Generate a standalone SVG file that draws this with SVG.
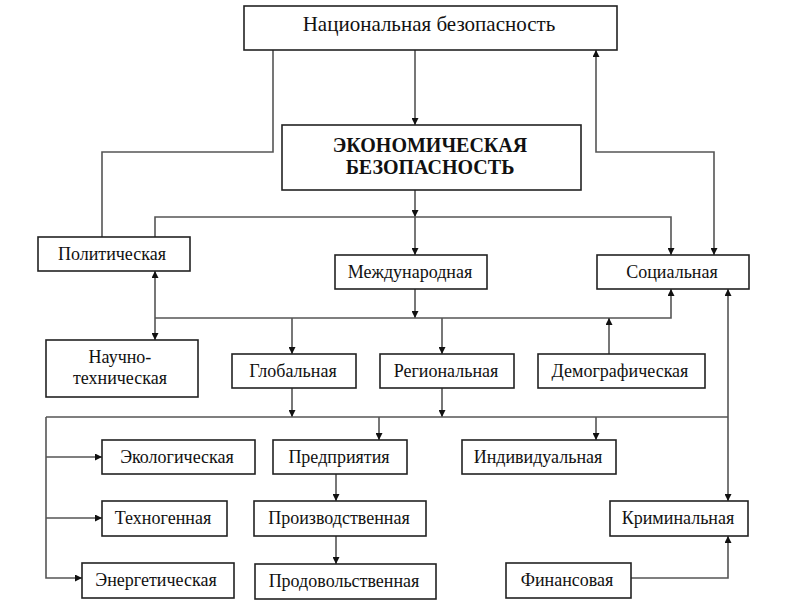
<svg xmlns="http://www.w3.org/2000/svg" width="788" height="606" viewBox="0 0 788 606">
<defs>
<marker id="a" viewBox="0 0 10 10" refX="10" refY="5" markerWidth="9" markerHeight="7" markerUnits="userSpaceOnUse" orient="auto-start-reverse"><path d="M0,0 L10,5 L0,10 z" fill="#111"/></marker>
<style>
.box{fill:#fff;stroke:#222;stroke-width:1.6}
.t{font-family:"Liberation Serif","Times New Roman",serif;font-size:18px;fill:#111;text-anchor:middle;dominant-baseline:central}
.n{font-size:21px}
.b{font-weight:bold;font-size:20px}
.c{fill:none;stroke:#555;stroke-width:1.6}
.e{marker-end:url(#a)}
.s{marker-start:url(#a)}
</style>
</defs>
<rect width="788" height="606" fill="#fff"/>
<g id="connectors">
<path class="c e" d="M415,50 V125"/>
<path class="c" d="M273,50 V152 H102 V237"/>
<path class="c e s" d="M596,50 V152 H714 V255"/>
<path class="c e" d="M415,190 V217"/>
<path class="c e" d="M415,217 V255"/>
<path class="c e" d="M155,237 V217 H671 V255"/>
<path class="c e s" d="M155,271 V340"/>
<path class="c e" d="M415,289 V318"/>
<path class="c e" d="M155,318 H671 V289"/>
<path class="c e" d="M292,318 V354"/>
<path class="c e" d="M442,318 V354"/>
<path class="c e" d="M609,354 V318"/>
<path class="c e s" d="M728,289 V501"/>
<path class="c e" d="M292,388 V417"/>
<path class="c e" d="M442,388 V417"/>
<path class="c" d="M46,417 H728"/>
<path class="c e" d="M46,417 V578 H82"/>
<path class="c e" d="M46,457 H102"/>
<path class="c e" d="M46,518 H102"/>
<path class="c e" d="M379,417 V440"/>
<path class="c e" d="M596,417 V440"/>
<path class="c e" d="M336,474 V501"/>
<path class="c e" d="M336,536 V564"/>
<path class="c e" d="M631,578 H728 V536"/>
</g>
<g id="nat"><rect class="box" x="244" y="6" width="373" height="44"/><text class="t n" x="429" y="24">Национальная безопасность</text></g>
<g id="eco"><rect class="box" x="282" y="125" width="299" height="65"/><text class="t b" x="430" y="145">ЭКОНОМИЧЕСКАЯ</text><text class="t b" x="430" y="167">БЕЗОПАСНОСТЬ</text></g>
<g id="pol"><rect class="box" x="38" y="237" width="152" height="34"/><text class="t" x="112" y="254">Политическая</text></g>
<g id="int"><rect class="box" x="335" y="255" width="152" height="34"/><text class="t" x="410" y="272">Международная</text></g>
<g id="soc"><rect class="box" x="597" y="255" width="152" height="34"/><text class="t" x="672" y="272">Социальная</text></g>
<g id="nauch"><rect class="box" x="46" y="340" width="152" height="57"/><text class="t" x="120" y="357">Научно-</text><text class="t" x="120" y="378">техническая</text></g>
<g id="glob"><rect class="box" x="232" y="354" width="124" height="34"/><text class="t" x="293" y="371">Глобальная</text></g>
<g id="reg"><rect class="box" x="380" y="354" width="134" height="34"/><text class="t" x="446" y="371">Региональная</text></g>
<g id="dem"><rect class="box" x="538" y="354" width="167" height="34"/><text class="t" x="620" y="371">Демографическая</text></g>
<g id="ecol"><rect class="box" x="102" y="440" width="153" height="34"/><text class="t" x="177" y="457">Экологическая</text></g>
<g id="pred"><rect class="box" x="273" y="440" width="134" height="34"/><text class="t" x="339" y="457">Предприятия</text></g>
<g id="ind"><rect class="box" x="462" y="440" width="154" height="34"/><text class="t" x="538" y="457">Индивидуальная</text></g>
<g id="tech"><rect class="box" x="102" y="501" width="125" height="35"/><text class="t" x="163" y="518">Техногенная</text></g>
<g id="proizv"><rect class="box" x="254" y="501" width="172" height="35"/><text class="t" x="339" y="518">Производственная</text></g>
<g id="krim"><rect class="box" x="610" y="501" width="138" height="35"/><text class="t" x="678" y="518">Криминальная</text></g>
<g id="energ"><rect class="box" x="82" y="563" width="152" height="35"/><text class="t" x="156" y="580">Энергетическая</text></g>
<g id="prod"><rect class="box" x="255" y="564" width="181" height="35"/><text class="t" x="344" y="581">Продовольственная</text></g>
<g id="fin"><rect class="box" x="506" y="563" width="125" height="35"/><text class="t" x="567" y="580">Финансовая</text></g>
</svg>
